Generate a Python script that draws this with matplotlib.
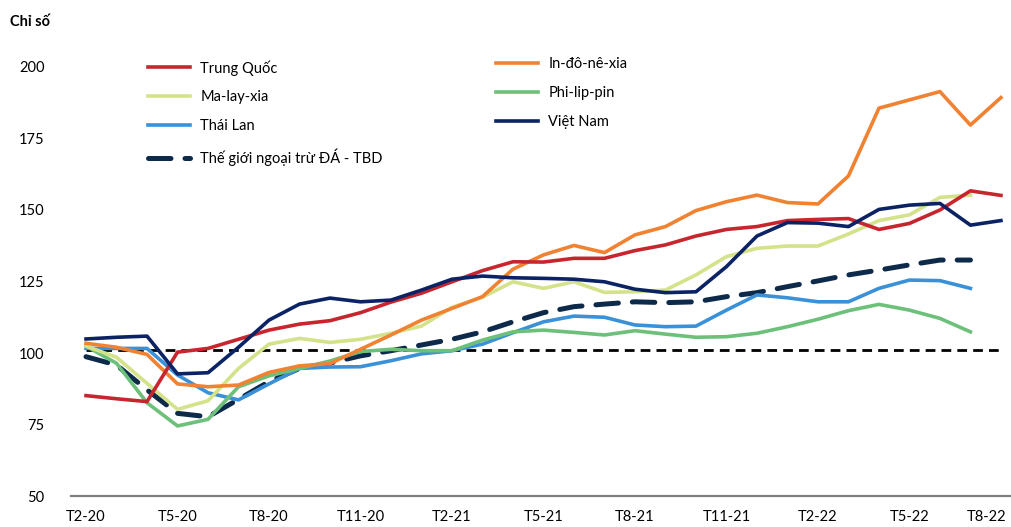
import numpy as np
import matplotlib.pyplot as plt
from matplotlib.lines import Line2D
import matplotlib.transforms as mtransforms

plt.rcParams['font.family'] = ['Lato', 'DejaVu Sans']

# nhãn trục hoành (mỗi 3 tháng), dữ liệu theo tháng T2-20 .. T8-22
thang = ["T2-20", "T5-20", "T8-20", "T11-20", "T2-21", "T5-21",
         "T8-21", "T11-21", "T2-22", "T5-22", "T8-22"]

trung_quoc = [85.1, 84.0, 83.0, 100.3, 101.6, 104.8, 108.0, 110.1, 111.3, 114.1,
              117.8, 120.9, 124.9, 128.8, 131.9, 131.8, 133.1, 133.1, 135.8, 137.8,
              140.9, 143.2, 144.2, 146.3, 146.7, 147.0, 143.2, 145.3, 150.0, 156.7, 155.1]
indonesia = [103.4, 102.0, 99.5, 89.2, 88.2, 88.8, 93.2, 95.5, 96.3, 101.3,
             106.3, 111.5, 115.6, 119.7, 129.3, 134.3, 137.6, 135.1, 141.3, 144.2,
             149.8, 152.9, 155.2, 152.6, 152.1, 161.9, 185.6, 188.5, 191.4, 179.7, 189.3]
malaysia = [102.4, 98.5, 89.4, 80.3, 83.3, 94.6, 103.1, 105.1, 103.7, 104.8,
            106.9, 109.4, 116.0, 119.5, 124.9, 122.6, 124.9, 121.2, 121.4, 122.0,
            127.3, 133.7, 136.6, 137.4, 137.4, 141.6, 146.3, 148.3, 154.4, 155.2, np.nan]
philippines = [102.4, 96.4, 82.6, 74.5, 76.8, 88.2, 92.0, 94.6, 97.2, 100.5,
               101.3, 100.8, 100.8, 104.5, 107.4, 108.0, 107.2, 106.3, 107.8, 106.6,
               105.5, 105.7, 106.9, 109.2, 111.8, 114.8, 117.0, 115.0, 112.1, 107.4, np.nan]
thai_lan = [101.6, 101.6, 101.6, 92.3, 86.1, 83.6, 89.2, 94.6, 95.1, 95.2,
            97.3, 99.7, 100.8, 103.1, 107.1, 110.9, 112.9, 112.5, 109.8, 109.2,
            109.4, 115.0, 120.3, 119.3, 117.9, 117.9, 122.6, 125.5, 125.3, 122.6, np.nan]
viet_nam = [104.9, 105.5, 105.9, 92.7, 93.1, 102.0, 111.5, 117.1, 119.2, 117.9,
            118.5, 122.0, 125.8, 126.9, 126.3, 126.1, 125.8, 124.9, 122.3, 121.1,
            121.4, 130.2, 140.9, 145.6, 145.4, 144.2, 150.2, 151.7, 152.3, 144.7, 146.3]
the_gioi = [98.7, 95.8, 87.1, 78.9, 77.7, 83.8, 90.0, 94.6, 96.5, 99.0,
            100.8, 102.8, 104.8, 107.4, 110.9, 114.1, 116.2, 117.1, 117.9, 117.6,
            117.9, 119.7, 121.1, 123.2, 125.2, 127.3, 129.0, 130.8, 132.5, 132.5, np.nan]
moc_100 = [101.0] * 31

x = np.arange(len(trung_quoc))

fig = plt.figure(figsize=(10.11, 5.27), dpi=100)
ax = fig.add_axes([0.07, 0.0588, 0.93, 0.8141])

ax.plot(x, moc_100, color="black", lw=2.0, dashes=(3.5, 2.2), zorder=2)
ax.plot(x, the_gioi, color="#0d2a4b", lw=3.6, dashes=(4.5, 2.8), zorder=3,
        solid_capstyle="round", dash_capstyle="round")

series = [
    (thai_lan, "#3a91d8"),
    (philippines, "#6cc07a"),
    (malaysia, "#d4e28a"),
    (indonesia, "#f08232"),
    (trung_quoc, "#c8262e"),
    (viet_nam, "#0b2265"),
]
for vals, c in series:
    ax.plot(x, vals, color=c, lw=2.6, zorder=4, clip_on=False)

ax.set_xlim(-0.5, 30.33)
ax.set_ylim(50, 200)
ax.set_yticks([50, 75, 100, 125, 150, 175, 200])
ax.set_xticks(x[::3])
ax.set_xticklabels(thang)
ax.tick_params(axis="both", length=0, labelsize=10.5, colors="black")
ax.tick_params(axis="y", pad=19)
ax.tick_params(axis="x", pad=10)
# nhãn cuối dịch sang trái để không bị cắt
last = ax.get_xticklabels()[-1]
last.set_transform(last.get_transform() + mtransforms.ScaledTranslation(-14 / 100, 0, fig.dpi_scale_trans))
for s in ["top", "right", "left"]:
    ax.spines[s].set_visible(False)
ax.spines["bottom"].set_color("#808080")
ax.spines["bottom"].set_linewidth(1.6)

fig.text(0.01, 0.958, "Chỉ số", fontsize=10.5, fontweight="bold", va="center")

def h(c, **kw):
    return Line2D([], [], color=c, lw=2.6, **kw)

trai = [h("#c8262e"), h("#d4e28a"), h("#3a91d8"),
        Line2D([], [], color="#0d2a4b", lw=3.6, dashes=(4.5, 2.8), dash_capstyle="round")]
trai_ten = ["Trung Quốc", "Ma-lay-xia", "Thái Lan", "Thế giới ngoại trừ ĐÁ - TBD"]
phai = [h("#f08232"), h("#6cc07a"), h("#0b2265")]
phai_ten = ["In-đô-nê-xia", "Phi-lip-pin", "Việt Nam"]

kw = dict(frameon=False, fontsize=10.5, handlelength=2.9, handletextpad=0.7,
          labelspacing=1.02, borderpad=0, borderaxespad=0, loc="upper left")
fig.legend(trai, trai_ten, bbox_to_anchor=(148 / 1011, 1 - 60 / 527), **kw)
fig.legend(phai, phai_ten, bbox_to_anchor=(496 / 1011, 1 - 57 / 527), **kw)

fig.savefig("out.png", dpi=100)
